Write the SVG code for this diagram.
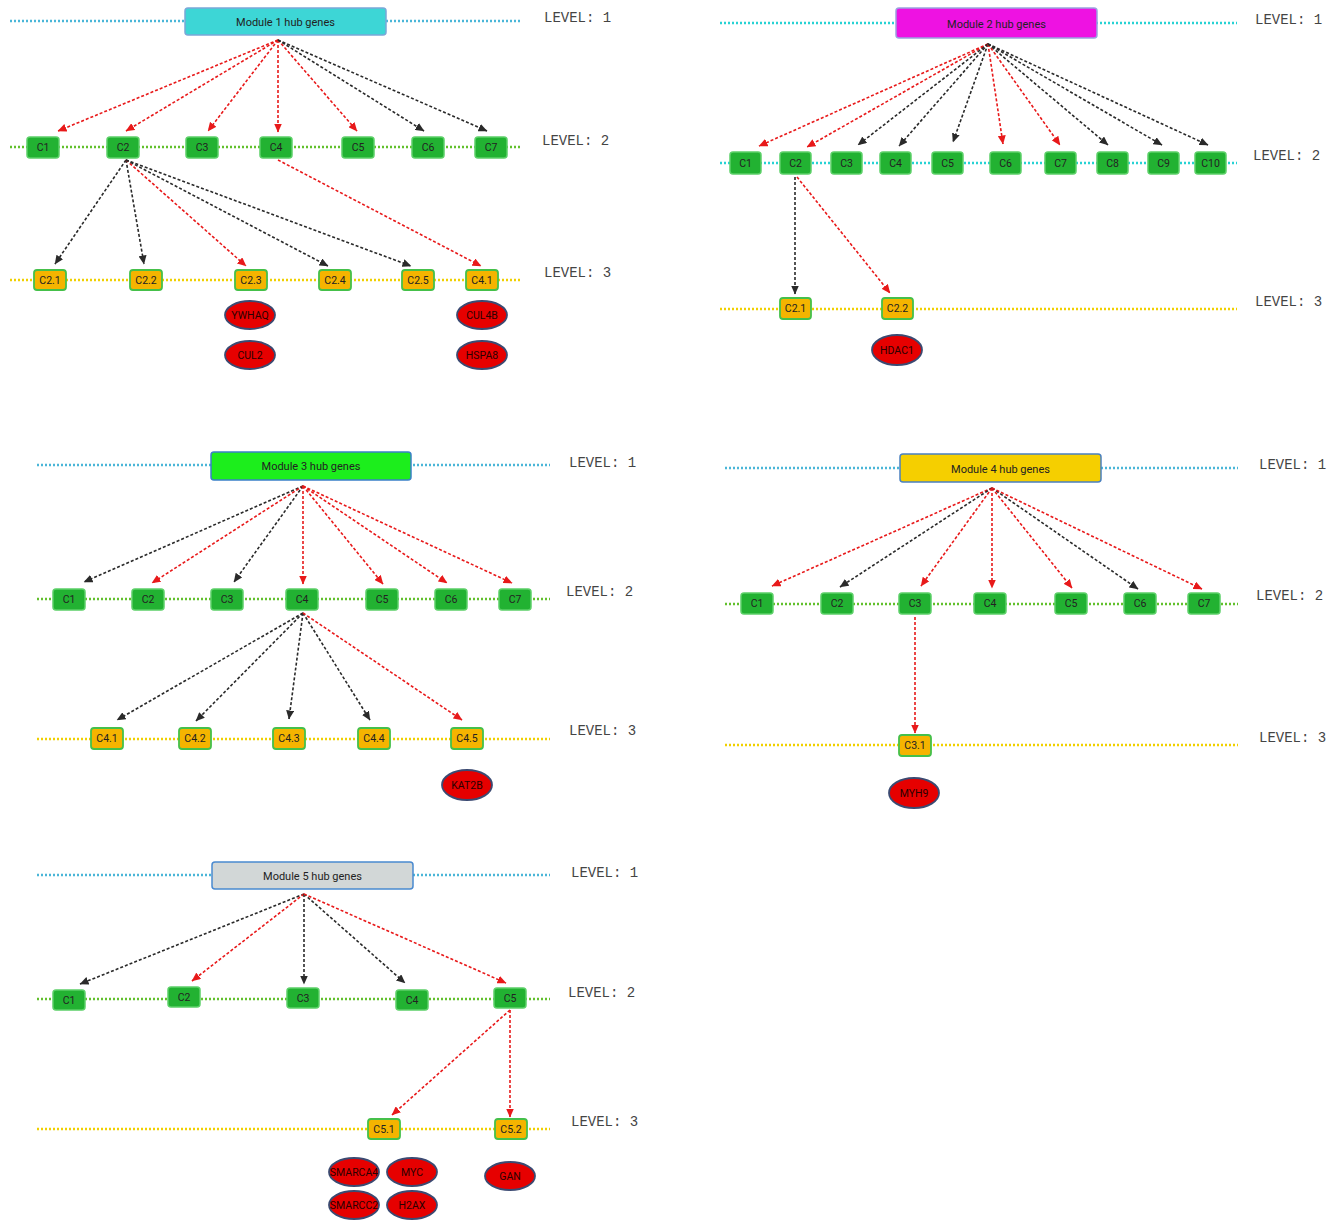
<svg xmlns="http://www.w3.org/2000/svg" width="1338" height="1223" viewBox="0 0 1338 1223">
<defs>
<marker id="ar" markerWidth="9" markerHeight="8" refX="8.5" refY="4" orient="auto" markerUnits="userSpaceOnUse"><path d="M0,0 L9,4 L0,8 z" fill="#e8191a"/></marker>
<marker id="ak" markerWidth="9" markerHeight="8" refX="8.5" refY="4" orient="auto" markerUnits="userSpaceOnUse"><path d="M0,0 L9,4 L0,8 z" fill="#2a2a2a"/></marker>
</defs>
<style>
.l1{stroke:#4ab6d8;stroke-width:2.6;stroke-dasharray:2 2;fill:none}
.l1c{stroke:#27d2d4;stroke-width:2.6;stroke-dasharray:2 2;fill:none}
.l2{stroke:#62c02c;stroke-width:2.6;stroke-dasharray:2 2;fill:none}
.l3{stroke:#f0d000;stroke-width:2.6;stroke-dasharray:2 2;fill:none}
.r{stroke:#e8191a;stroke-width:1.6;stroke-dasharray:3 2;fill:none;marker-end:url(#ar)}
.k{stroke:#2a2a2a;stroke-width:1.6;stroke-dasharray:3 2;fill:none;marker-end:url(#ak)}
.g{fill:#22b232;stroke:#5cd068;stroke-width:1.5}
.o{fill:#f5b400;stroke:#45c04a;stroke-width:1.8}
.e{fill:#e60000;stroke:#3b4a72;stroke-width:1.8}
.t{font-family:Roboto,"Liberation Sans",sans-serif;font-size:10.5px;fill:#222;text-anchor:middle;dominant-baseline:central}
.et{font-family:Roboto,"Liberation Sans",sans-serif;font-size:10.5px;fill:#2a0000;text-anchor:middle;dominant-baseline:central}
.tt{font-family:Roboto,"Liberation Sans",sans-serif;font-size:11px;fill:#222;text-anchor:middle;dominant-baseline:central}
.lv{font-family:"Liberation Mono",monospace;font-size:14px;fill:#444}
</style>

<g id="level-lines">
<line class="l1" x1="10" y1="21" x2="522" y2="21"/>
<line class="l2" x1="10" y1="147" x2="522" y2="147"/>
<line class="l3" x1="10" y1="280" x2="522" y2="280"/>
<line class="l1c" x1="720" y1="23" x2="1237" y2="23"/>
<line class="l1c" x1="720" y1="163" x2="1237" y2="163"/>
<line class="l3" x1="720" y1="309" x2="1237" y2="309"/>
<line class="l1" x1="37" y1="465" x2="550" y2="465"/>
<line class="l2" x1="37" y1="599" x2="550" y2="599"/>
<line class="l3" x1="37" y1="739" x2="550" y2="739"/>
<line class="l1" x1="725" y1="468" x2="1238" y2="468"/>
<line class="l2" x1="725" y1="604" x2="1238" y2="604"/>
<line class="l3" x1="725" y1="745" x2="1238" y2="745"/>
<line class="l1" x1="37" y1="875" x2="550" y2="875"/>
<line class="l2" x1="37" y1="999" x2="550" y2="999"/>
<line class="l3" x1="37" y1="1129" x2="550" y2="1129"/>
</g>

<g id="level-labels">
<text class="lv" x="544" y="22">LEVEL: 1</text>
<text class="lv" x="542" y="145">LEVEL: 2</text>
<text class="lv" x="544" y="277">LEVEL: 3</text>
<text class="lv" x="1255" y="24">LEVEL: 1</text>
<text class="lv" x="1253" y="160">LEVEL: 2</text>
<text class="lv" x="1255" y="306">LEVEL: 3</text>
<text class="lv" x="569" y="467">LEVEL: 1</text>
<text class="lv" x="566" y="596">LEVEL: 2</text>
<text class="lv" x="569" y="735">LEVEL: 3</text>
<text class="lv" x="1259" y="469">LEVEL: 1</text>
<text class="lv" x="1256" y="600">LEVEL: 2</text>
<text class="lv" x="1259" y="742">LEVEL: 3</text>
<text class="lv" x="571" y="877">LEVEL: 1</text>
<text class="lv" x="568" y="997">LEVEL: 2</text>
<text class="lv" x="571" y="1126">LEVEL: 3</text>
</g>

<g id="connectors">
<line class="r" x1="278" y1="40" x2="58" y2="131"/>
<line class="r" x1="278" y1="40" x2="126" y2="131"/>
<line class="r" x1="278" y1="40" x2="208" y2="131"/>
<line class="r" x1="278" y1="40" x2="278" y2="132"/>
<line class="r" x1="278" y1="40" x2="357" y2="131"/>
<line class="k" x1="278" y1="40" x2="424" y2="131"/>
<line class="k" x1="278" y1="40" x2="487" y2="131"/>
<line class="k" x1="126" y1="160" x2="55" y2="264"/>
<line class="k" x1="126" y1="160" x2="144" y2="264"/>
<line class="r" x1="126" y1="160" x2="246" y2="266"/>
<line class="k" x1="126" y1="160" x2="328" y2="266"/>
<line class="k" x1="126" y1="160" x2="411" y2="266"/>
<line class="r" x1="278" y1="160" x2="481" y2="266"/>
<line class="r" x1="988" y1="44" x2="759" y2="146"/>
<line class="r" x1="988" y1="44" x2="807" y2="147"/>
<line class="k" x1="988" y1="44" x2="858" y2="145"/>
<line class="k" x1="988" y1="44" x2="899" y2="146"/>
<line class="k" x1="988" y1="44" x2="953" y2="142"/>
<line class="r" x1="988" y1="44" x2="1003" y2="144"/>
<line class="r" x1="988" y1="44" x2="1060" y2="145"/>
<line class="k" x1="988" y1="44" x2="1108" y2="145"/>
<line class="k" x1="988" y1="44" x2="1162" y2="145"/>
<line class="k" x1="988" y1="44" x2="1208" y2="145"/>
<line class="k" x1="795" y1="177" x2="795" y2="294"/>
<line class="r" x1="797" y1="177" x2="890" y2="293"/>
<line class="k" x1="303" y1="486" x2="84" y2="582"/>
<line class="r" x1="303" y1="486" x2="152" y2="583"/>
<line class="k" x1="303" y1="486" x2="234" y2="582"/>
<line class="r" x1="303" y1="486" x2="303" y2="584"/>
<line class="r" x1="303" y1="486" x2="383" y2="584"/>
<line class="r" x1="303" y1="486" x2="447" y2="583"/>
<line class="r" x1="303" y1="486" x2="512" y2="583"/>
<line class="k" x1="303" y1="613" x2="117" y2="720"/>
<line class="k" x1="303" y1="613" x2="196" y2="721"/>
<line class="k" x1="303" y1="613" x2="289" y2="719"/>
<line class="k" x1="303" y1="613" x2="370" y2="720"/>
<line class="r" x1="303" y1="613" x2="462" y2="720"/>
<line class="r" x1="992" y1="488" x2="772" y2="586"/>
<line class="k" x1="992" y1="488" x2="840" y2="587"/>
<line class="r" x1="992" y1="488" x2="921" y2="586"/>
<line class="r" x1="992" y1="488" x2="992" y2="588"/>
<line class="r" x1="992" y1="488" x2="1072" y2="588"/>
<line class="k" x1="992" y1="488" x2="1138" y2="589"/>
<line class="r" x1="992" y1="488" x2="1202" y2="589"/>
<line class="r" x1="915" y1="617" x2="915" y2="733"/>
<line class="k" x1="304" y1="894" x2="80" y2="984"/>
<line class="r" x1="304" y1="894" x2="192" y2="981"/>
<line class="k" x1="304" y1="894" x2="304" y2="984"/>
<line class="k" x1="304" y1="894" x2="405" y2="983"/>
<line class="r" x1="304" y1="894" x2="506" y2="983"/>
<line class="r" x1="510" y1="1010" x2="392" y2="1115"/>
<line class="r" x1="510" y1="1010" x2="510" y2="1117"/>
</g>

<g id="m1-root"><rect x="185" y="8" width="201" height="27" rx="3" fill="#3dd6d6" stroke="#7aa8d8" stroke-width="1.5"/><text class="tt" x="285.5" y="22">Module 1 hub genes</text></g>
<g id="m1-C1"><rect class="g" x="27" y="137" width="32" height="21" rx="3"/><text class="t" x="43" y="147.5">C1</text></g>
<g id="m1-C2"><rect class="g" x="107" y="137" width="32" height="21" rx="3"/><text class="t" x="123" y="147.5">C2</text></g>
<g id="m1-C3"><rect class="g" x="186" y="137" width="32" height="21" rx="3"/><text class="t" x="202" y="147.5">C3</text></g>
<g id="m1-C4"><rect class="g" x="260" y="137" width="32" height="21" rx="3"/><text class="t" x="276" y="147.5">C4</text></g>
<g id="m1-C5"><rect class="g" x="342" y="137" width="32" height="21" rx="3"/><text class="t" x="358" y="147.5">C5</text></g>
<g id="m1-C6"><rect class="g" x="412" y="137" width="32" height="21" rx="3"/><text class="t" x="428" y="147.5">C6</text></g>
<g id="m1-C7"><rect class="g" x="475" y="137" width="32" height="21" rx="3"/><text class="t" x="491" y="147.5">C7</text></g>
<g id="m1-C2.1"><rect class="o" x="34" y="270" width="32" height="20" rx="3"/><text class="t" x="50" y="280">C2.1</text></g>
<g id="m1-C2.2"><rect class="o" x="130" y="270" width="32" height="20" rx="3"/><text class="t" x="146" y="280">C2.2</text></g>
<g id="m1-C2.3"><rect class="o" x="235" y="270" width="32" height="20" rx="3"/><text class="t" x="251" y="280">C2.3</text></g>
<g id="m1-C2.4"><rect class="o" x="319" y="270" width="32" height="20" rx="3"/><text class="t" x="335" y="280">C2.4</text></g>
<g id="m1-C2.5"><rect class="o" x="402" y="270" width="32" height="20" rx="3"/><text class="t" x="418" y="280">C2.5</text></g>
<g id="m1-C4.1"><rect class="o" x="466" y="270" width="32" height="20" rx="3"/><text class="t" x="482" y="280">C4.1</text></g>
<g id="m1-YWHAQ"><ellipse class="e" cx="250" cy="315" rx="25" ry="14"/><text class="et" x="250" y="315">YWHAQ</text></g>
<g id="m1-CUL2"><ellipse class="e" cx="250" cy="355" rx="25" ry="14"/><text class="et" x="250" y="355">CUL2</text></g>
<g id="m1-CUL4B"><ellipse class="e" cx="482" cy="315" rx="25" ry="14"/><text class="et" x="482" y="315">CUL4B</text></g>
<g id="m1-HSPA8"><ellipse class="e" cx="482" cy="355" rx="25" ry="14"/><text class="et" x="482" y="355">HSPA8</text></g>

<g id="m2-root"><rect x="896" y="8" width="201" height="30" rx="3" fill="#ee12e2" stroke="#9aa2e0" stroke-width="1.5"/><text class="tt" x="996.5" y="24">Module 2 hub genes</text></g>
<g id="m2-C1"><rect class="g" x="730" y="152" width="31" height="22" rx="3"/><text class="t" x="745.5" y="163">C1</text></g>
<g id="m2-C2"><rect class="g" x="780" y="152" width="31" height="22" rx="3"/><text class="t" x="795.5" y="163">C2</text></g>
<g id="m2-C3"><rect class="g" x="831" y="152" width="31" height="22" rx="3"/><text class="t" x="846.5" y="163">C3</text></g>
<g id="m2-C4"><rect class="g" x="880" y="152" width="31" height="22" rx="3"/><text class="t" x="895.5" y="163">C4</text></g>
<g id="m2-C5"><rect class="g" x="932" y="152" width="31" height="22" rx="3"/><text class="t" x="947.5" y="163">C5</text></g>
<g id="m2-C6"><rect class="g" x="990" y="152" width="31" height="22" rx="3"/><text class="t" x="1005.5" y="163">C6</text></g>
<g id="m2-C7"><rect class="g" x="1045" y="152" width="31" height="22" rx="3"/><text class="t" x="1060.5" y="163">C7</text></g>
<g id="m2-C8"><rect class="g" x="1097" y="152" width="31" height="22" rx="3"/><text class="t" x="1112.5" y="163">C8</text></g>
<g id="m2-C9"><rect class="g" x="1148" y="152" width="31" height="22" rx="3"/><text class="t" x="1163.5" y="163">C9</text></g>
<g id="m2-C10"><rect class="g" x="1195" y="152" width="31" height="22" rx="3"/><text class="t" x="1210.5" y="163">C10</text></g>
<g id="m2-C2.1"><rect class="o" x="780" y="298" width="31" height="21" rx="3"/><text class="t" x="795.5" y="308.5">C2.1</text></g>
<g id="m2-C2.2"><rect class="o" x="882" y="298" width="31" height="21" rx="3"/><text class="t" x="897.5" y="308.5">C2.2</text></g>
<g id="m2-HDAC1"><ellipse class="e" cx="897" cy="350" rx="25" ry="15"/><text class="et" x="897" y="350">HDAC1</text></g>

<g id="m3-root"><rect x="211" y="452" width="200" height="28" rx="3" fill="#1cee1c" stroke="#3a80c8" stroke-width="1.5"/><text class="tt" x="311" y="466">Module 3 hub genes</text></g>
<g id="m3-C1"><rect class="g" x="53" y="589" width="32" height="21" rx="3"/><text class="t" x="69" y="599.5">C1</text></g>
<g id="m3-C2"><rect class="g" x="132" y="589" width="32" height="21" rx="3"/><text class="t" x="148" y="599.5">C2</text></g>
<g id="m3-C3"><rect class="g" x="211" y="589" width="32" height="21" rx="3"/><text class="t" x="227" y="599.5">C3</text></g>
<g id="m3-C4"><rect class="g" x="286" y="589" width="32" height="21" rx="3"/><text class="t" x="302" y="599.5">C4</text></g>
<g id="m3-C5"><rect class="g" x="366" y="589" width="32" height="21" rx="3"/><text class="t" x="382" y="599.5">C5</text></g>
<g id="m3-C6"><rect class="g" x="435" y="589" width="32" height="21" rx="3"/><text class="t" x="451" y="599.5">C6</text></g>
<g id="m3-C7"><rect class="g" x="499" y="589" width="32" height="21" rx="3"/><text class="t" x="515" y="599.5">C7</text></g>
<g id="m3-C4.1"><rect class="o" x="91" y="728" width="32" height="21" rx="3"/><text class="t" x="107" y="738.5">C4.1</text></g>
<g id="m3-C4.2"><rect class="o" x="179" y="728" width="32" height="21" rx="3"/><text class="t" x="195" y="738.5">C4.2</text></g>
<g id="m3-C4.3"><rect class="o" x="273" y="728" width="32" height="21" rx="3"/><text class="t" x="289" y="738.5">C4.3</text></g>
<g id="m3-C4.4"><rect class="o" x="358" y="728" width="32" height="21" rx="3"/><text class="t" x="374" y="738.5">C4.4</text></g>
<g id="m3-C4.5"><rect class="o" x="451" y="728" width="32" height="21" rx="3"/><text class="t" x="467" y="738.5">C4.5</text></g>
<g id="m3-KAT2B"><ellipse class="e" cx="467" cy="785" rx="25" ry="15"/><text class="et" x="467" y="785">KAT2B</text></g>

<g id="m4-root"><rect x="900" y="454" width="201" height="28" rx="3" fill="#f5cf00" stroke="#4a80c0" stroke-width="1.5"/><text class="tt" x="1000.5" y="469">Module 4 hub genes</text></g>
<g id="m4-C1"><rect class="g" x="741" y="593" width="32" height="21" rx="3"/><text class="t" x="757" y="603.5">C1</text></g>
<g id="m4-C2"><rect class="g" x="821" y="593" width="32" height="21" rx="3"/><text class="t" x="837" y="603.5">C2</text></g>
<g id="m4-C3"><rect class="g" x="899" y="593" width="32" height="21" rx="3"/><text class="t" x="915" y="603.5">C3</text></g>
<g id="m4-C4"><rect class="g" x="974" y="593" width="32" height="21" rx="3"/><text class="t" x="990" y="603.5">C4</text></g>
<g id="m4-C5"><rect class="g" x="1055" y="593" width="32" height="21" rx="3"/><text class="t" x="1071" y="603.5">C5</text></g>
<g id="m4-C6"><rect class="g" x="1124" y="593" width="32" height="21" rx="3"/><text class="t" x="1140" y="603.5">C6</text></g>
<g id="m4-C7"><rect class="g" x="1188" y="593" width="32" height="21" rx="3"/><text class="t" x="1204" y="603.5">C7</text></g>
<g id="m4-C3.1"><rect class="o" x="899" y="735" width="32" height="21" rx="3"/><text class="t" x="915" y="745.5">C3.1</text></g>
<g id="m4-MYH9"><ellipse class="e" cx="914" cy="793" rx="25" ry="15"/><text class="et" x="914" y="793">MYH9</text></g>

<g id="m5-root"><rect x="212" y="862" width="201" height="27" rx="3" fill="#d2d7d7" stroke="#4a8ad0" stroke-width="1.5"/><text class="tt" x="312.5" y="876">Module 5 hub genes</text></g>
<g id="m5-C1"><rect class="g" x="53" y="990" width="32" height="20" rx="3"/><text class="t" x="69" y="1000">C1</text></g>
<g id="m5-C2"><rect class="g" x="168" y="987" width="32" height="20" rx="3"/><text class="t" x="184" y="997">C2</text></g>
<g id="m5-C3"><rect class="g" x="287" y="988" width="32" height="20" rx="3"/><text class="t" x="303" y="998">C3</text></g>
<g id="m5-C4"><rect class="g" x="396" y="990" width="32" height="20" rx="3"/><text class="t" x="412" y="1000">C4</text></g>
<g id="m5-C5"><rect class="g" x="494" y="988" width="32" height="20" rx="3"/><text class="t" x="510" y="998">C5</text></g>
<g id="m5-C5.1"><rect class="o" x="368" y="1119" width="32" height="20" rx="3"/><text class="t" x="384" y="1129">C5.1</text></g>
<g id="m5-C5.2"><rect class="o" x="495" y="1119" width="32" height="20" rx="3"/><text class="t" x="511" y="1129">C5.2</text></g>
<g id="m5-SMARCA4"><ellipse class="e" cx="354" cy="1172" rx="25" ry="14"/><text class="et" x="354" y="1172">SMARCA4</text></g>
<g id="m5-MYC"><ellipse class="e" cx="412" cy="1172" rx="25" ry="14"/><text class="et" x="412" y="1172">MYC</text></g>
<g id="m5-SMARCC2"><ellipse class="e" cx="354" cy="1205" rx="25" ry="14"/><text class="et" x="354" y="1205">SMARCC2</text></g>
<g id="m5-H2AX"><ellipse class="e" cx="412" cy="1205" rx="25" ry="14"/><text class="et" x="412" y="1205">H2AX</text></g>
<g id="m5-GAN"><ellipse class="e" cx="510" cy="1176" rx="25" ry="14"/><text class="et" x="510" y="1176">GAN</text></g>
</svg>
